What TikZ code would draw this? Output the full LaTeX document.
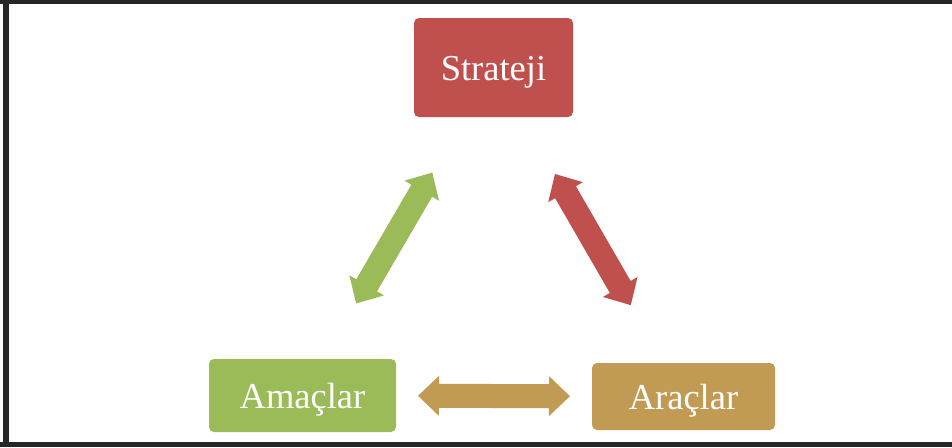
\documentclass[tikz,border=0pt]{standalone}
\usepackage{fontspec}
\setmainfont{Liberation Serif}
\usetikzlibrary{calc}
\definecolor{cred}{HTML}{C0504D}
\definecolor{cgreen}{HTML}{9BBB59}
\definecolor{cgold}{HTML}{C19B53}
\definecolor{cframe}{HTML}{262626}
\newcommand\ahl{21pt}
\newcommand\ahw{20pt}
\newcommand\asw{12pt}
\newcommand\dblarrow[5]{%
  \coordinate (da1) at ($(#1.center)!#3!(#2.center)$);
  \coordinate (da2) at ($(#2.center)!#4!(#1.center)$);
  \fill[#5] (da1)
    -- ($(da1)!\ahl!(da2)!\ahw!90:(da2)$)
    -- ($(da1)!\ahl!(da2)!\asw!90:(da2)$)
    -- ($(da2)!\ahl!(da1)!\asw!-90:(da1)$)
    -- ($(da2)!\ahl!(da1)!\ahw!-90:(da1)$)
    -- (da2)
    -- ($(da2)!\ahl!(da1)!\ahw!90:(da1)$)
    -- ($(da2)!\ahl!(da1)!\asw!90:(da1)$)
    -- ($(da1)!\ahl!(da2)!\asw!-90:(da2)$)
    -- ($(da1)!\ahl!(da2)!\ahw!-90:(da2)$)
    -- cycle;
}
\tikzset{
  box/.style={rounded corners=5pt, inner sep=0pt, text=white,
    font=\fontsize{36.5}{40}\selectfont, text depth=0pt}
}
\begin{document}
\begin{tikzpicture}[x=1pt,y=-1pt]
\useasboundingbox (0,0) rectangle (952,447);
\fill[white] (0,0) rectangle (952,447);
\fill[cframe] (0,0) rectangle (952,4);
\fill[cframe] (3,0) rectangle (9,447);
\fill[cframe] (0,442) rectangle (952,447);
\node[box, fill=cred, minimum width=159pt, minimum height=99pt] (strat) at (493.5,67.5) {\raisebox{-2pt}{Strateji}};
\node[box, fill=cgreen, minimum width=187pt, minimum height=73pt] (amac) at (302.5,395.5) {Amaçlar};
\node[box, fill=cgold, minimum width=183pt, minimum height=67pt] (arac) at (683.5,396.5) {Araçlar};
\dblarrow{amac}{strat}{106.5pt}{121.6pt}{cgreen}
\dblarrow{strat}{arac}{123pt}{105.5pt}{cred}
\dblarrow{amac}{arac}{115.5pt}{113.5pt}{cgold}
\end{tikzpicture}
\end{document}
